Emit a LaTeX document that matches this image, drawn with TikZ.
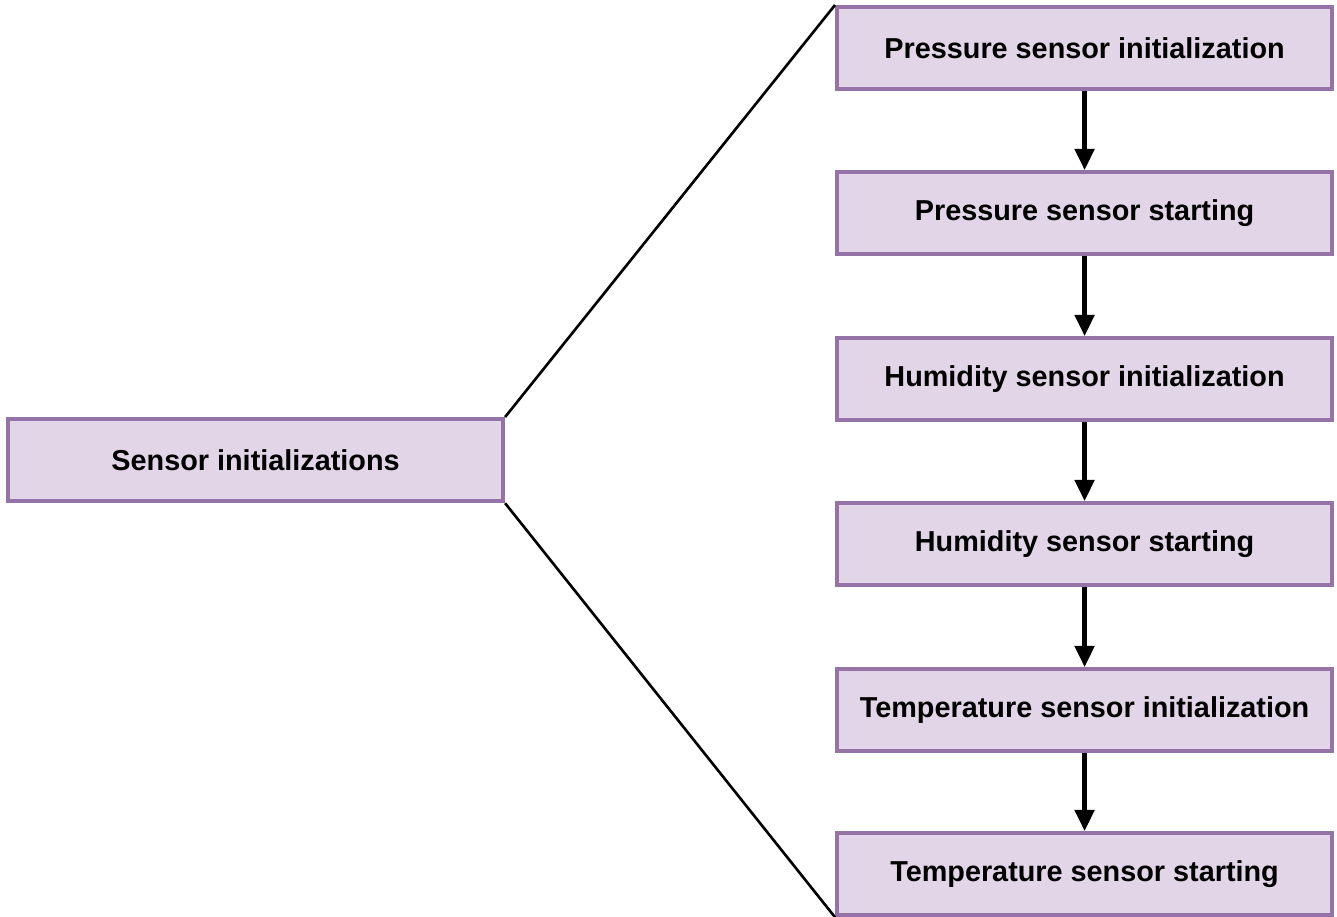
\documentclass[tikz,border=0pt]{standalone}
\usepackage{fontspec}
\setmainfont{Liberation Sans}
\usetikzlibrary{arrows.meta}
\definecolor{boxfill}{HTML}{E1D5E7}
\definecolor{boxline}{HTML}{9673A6}
\tikzset{
  box/.style={draw=boxline, fill=boxfill, line width=2.4pt, minimum width=9.9cm, minimum height=1.64cm, inner sep=0pt, font=\fontsize{16.4}{19}\selectfont\bfseries, anchor=north west},
  arr/.style={-{Triangle[length=12pt,width=11pt]}, line width=2.4pt},
  ln/.style={line width=1.5pt}
}
\begin{document}
\begin{tikzpicture}[x=0.02cm,y=-0.02cm]
\useasboundingbox (0,0) rectangle (1337,916);
\node[box] (s) at (6,417) {Sensor initializations};
\node[box] (b1) at (835,5) {Pressure sensor initialization};
\node[box] (b2) at (835,170) {Pressure sensor starting};
\node[box] (b3) at (835,336) {Humidity sensor initialization};
\node[box] (b4) at (835,501) {Humidity sensor starting};
\node[box] (b5) at (835,667) {Temperature sensor initialization};
\node[box] (b6) at (835,831) {Temperature sensor starting};
\draw[ln] (s.north east) -- (b1.north west);
\draw[ln] (s.south east) -- (b6.south west);
\draw[arr] (b1) -- (b2);
\draw[arr] (b2) -- (b3);
\draw[arr] (b3) -- (b4);
\draw[arr] (b4) -- (b5);
\draw[arr] (b5) -- (b6);
\end{tikzpicture}
\end{document}
